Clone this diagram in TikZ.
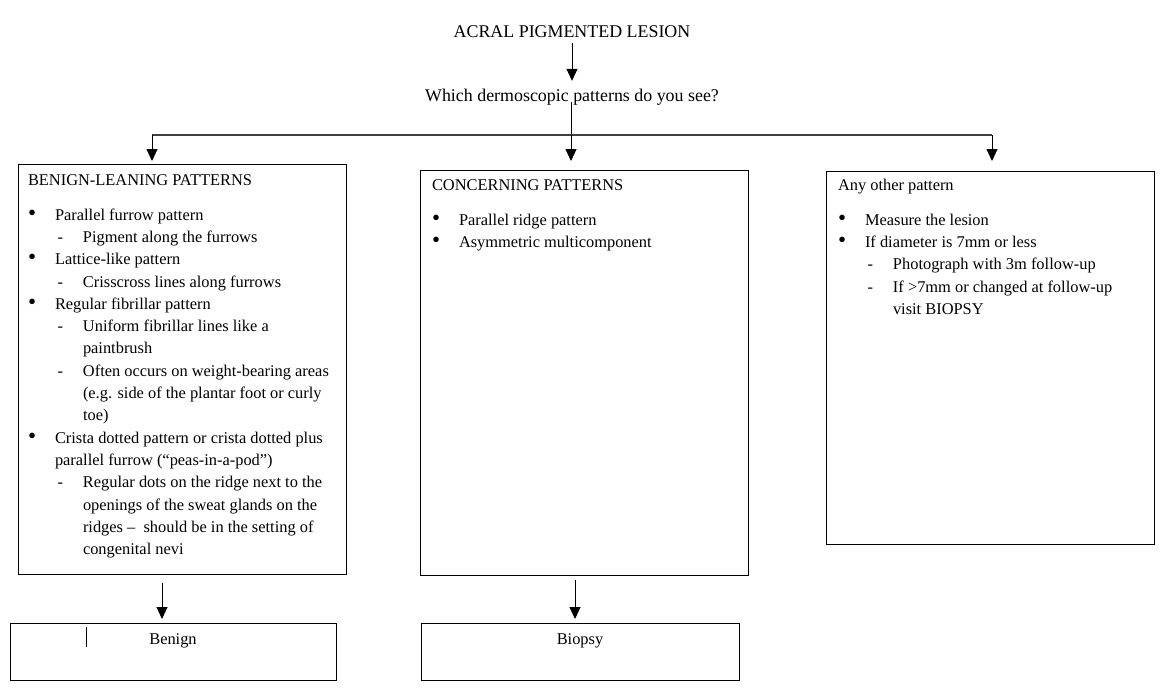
\documentclass[tikz,border=0pt]{standalone}
\usepackage{fontspec}
\setmainfont{Liberation Serif}
\usetikzlibrary{arrows.meta}

\newcommand{\boxfont}{\fontsize{16.4}{22.3}\selectfont}
\newcommand{\bigdot}{{\fontsize{23}{0}\selectfont\textbullet}}
\newcommand{\bitem}[1]{\par\hangindent=27pt\hangafter=1\noindent\makebox[27pt][l]{\hspace{0pt}\bigdot}#1}
\newcommand{\ditem}[1]{\par\hangindent=55pt\hangafter=1\noindent\hspace*{27pt}\makebox[28pt][l]{\hspace{2.5pt}-}#1}

\begin{document}
\begin{tikzpicture}[
  x=1pt, y=-1pt,
  toptext/.style={font=\fontsize{17.9}{22}\selectfont, inner sep=0pt, text height=12pt, text depth=4pt},
  pbox/.style={draw, line width=0.9pt, anchor=north west, inner ysep=0pt, outer sep=0pt},
  line/.style={line width=1pt},
  arr/.style={line width=1pt, -{Triangle[width=11pt, length=12pt]}},
  bar/.style={line width=1.6pt, draw=black!75}
]
\useasboundingbox (0,0) rectangle (1165,688);

\node[toptext] (lesion) at (572,33) {ACRAL PIGMENTED LESION};
\node[toptext] (question) at (572,97) {Which dermoscopic patterns do you see?};

% three pattern boxes
\node[pbox, inner xsep=10pt] (leaning) at (18,164) {\parbox[t][410pt][t]{308pt}{\boxfont\raggedright
  \rule{0pt}{21.5pt}BENIGN-LEANING PATTERNS\par\vspace{12.3pt}
  \bitem{Parallel furrow pattern}
  \ditem{Pigment along the furrows}
  \bitem{Lattice-like pattern}
  \ditem{Crisscross lines along furrows}
  \bitem{Regular fibrillar pattern}
  \ditem{Uniform fibrillar lines like a\newline paintbrush}
  \ditem{Often occurs on weight-bearing areas\newline (e.g. side of the plantar foot or curly\newline toe)}
  \bitem{Crista dotted pattern or crista dotted plus\newline parallel furrow (“peas-in-a-pod”)}
  \ditem{Regular dots on the ridge next to the\newline openings of the sweat glands on the\newline ridges --\ \ should be in the setting of\newline congenital nevi}}};
\node[pbox, inner xsep=12pt] (concern) at (420,170) {\parbox[t][405pt][t]{304pt}{\boxfont\raggedright
  \rule{0pt}{20.5pt}CONCERNING PATTERNS\par\vspace{12.3pt}
  \bitem{Parallel ridge pattern}
  \bitem{Asymmetric multicomponent}}};
\node[pbox, inner xsep=12pt] (other) at (826,171) {\parbox[t][373pt][t]{304pt}{\boxfont\raggedright
  \rule{0pt}{19.5pt}Any other pattern\par\vspace{12.3pt}
  \bitem{Measure the lesion}
  \bitem{If diameter is 7mm or less}
  \ditem{Photograph with 3m follow-up}
  \ditem{If >7mm or changed at follow-up\newline visit BIOPSY}}};

% outcome boxes
\node[pbox, inner xsep=0pt] (benign) at (10,623) {\parbox[t][57pt][t]{326pt}{\boxfont\centering
  \rule{0pt}{21pt}Benign}};
\node[pbox, inner xsep=0pt] (biopsy) at (421,623) {\parbox[t][57pt][t]{318pt}{\boxfont\centering
  \rule{0pt}{21pt}Biopsy}};
\draw[line] ([xshift=76pt, yshift=-4pt]benign.north west) -- ++(0,20);

% connectors
\coordinate (fork) at (571,135);
\coordinate (forkL) at (152,135);
\coordinate (forkR) at (992,135);
\draw[arr, shorten <=2pt, shorten >=8pt] (lesion) -- (question);
\draw[line] ([yshift=3pt]question.south -| fork) -- (fork);
\draw[bar] (forkL) -- (forkR);
\draw[arr, shorten >=3pt] (forkL) -- (forkL |- leaning.north);
\draw[arr, shorten >=9pt] (fork) -- (fork |- concern.north);
\draw[arr, shorten >=10pt] (forkR) -- (forkR |- other.north);
\draw[arr, shorten <=9pt, shorten >=4pt] ([xshift=-20pt]leaning.south) -- ([xshift=-20pt]leaning.south |- benign.north);
\draw[arr, shorten <=5pt, shorten >=4pt] ([xshift=-9pt]concern.south) -- ([xshift=-9pt]concern.south |- biopsy.north);
\end{tikzpicture}
\end{document}
